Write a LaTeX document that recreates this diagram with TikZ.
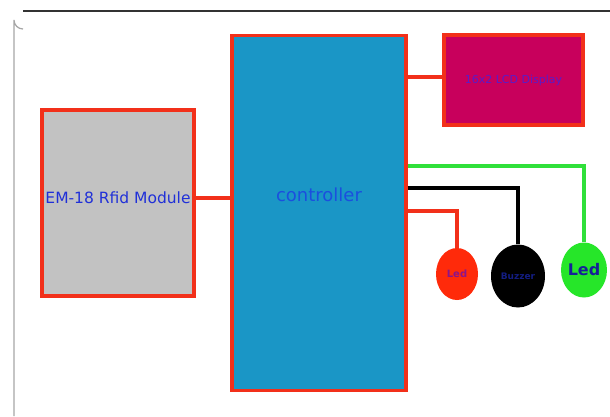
\documentclass[tikz,border=0pt]{standalone}
\usepackage{fontspec}
\setmainfont{DejaVu Sans}
\usetikzlibrary{shapes.geometric}
\begin{document}
\begin{tikzpicture}[x=1pt,y=-1pt,
  block/.style={draw=borderred, line width=3.4pt, rectangle, inner sep=0pt},
  led/.style={ellipse, inner sep=0pt, draw=none},
  wire/.style={line width=3.4pt}]
\definecolor{borderred}{HTML}{F2301A}
\definecolor{ctrlblue}{HTML}{1A96C6}
\definecolor{lcdfill}{HTML}{C8005C}
\definecolor{modgray}{HTML}{C2C2C2}
\definecolor{txtblue}{HTML}{2030D8}
\definecolor{txtpurple}{HTML}{5A1CC8}
\definecolor{ledred}{HTML}{FF2A0A}
\definecolor{ledgreen}{HTML}{26E629}
\definecolor{wiregreen}{HTML}{30E03A}
\useasboundingbox (0,0) rectangle (610,416);
\fill[white] (0,0) rectangle (610,416);
% window frame
\draw[gray!70, line width=1.2pt] (14,416) -- (14,20) arc[start angle=180, end angle=90, radius=9];
\draw[black!80, line width=1.4pt] (23,11) -- (610,11);
% blocks
\node[block, fill=ctrlblue, minimum width=174, minimum height=355] (ctrl) at (319,213) {};
\node[font=\fontsize{18}{20}\selectfont, text=txtblue!85!cyan] (ctrltext) at (319,195) {controller};
\node[block, fill=lcdfill, minimum width=139, minimum height=90,
  font=\fontsize{11}{12}\selectfont, text=txtpurple] (lcd) at (513.5,80) {16x2 LCD Display};
\node[block, fill=modgray, minimum width=152, minimum height=186] (rfid) at (118,203) {};
\node[font=\fontsize{15.5}{17}\selectfont, text=txtblue] (rfidtext) at (118,198) {EM-18 Rfid Module};
% indicators
\node[led, fill=ledred, minimum width=42, minimum height=52,
  font=\fontsize{10}{11}\selectfont\bfseries, text=txtpurple!70!red] (ledr) at (457,274) {Led};
\node[led, fill=black, minimum width=54, minimum height=63,
  font=\fontsize{9}{10}\selectfont\bfseries, text=txtblue!60!black] (buzz) at (518,276) {Buzzer};
\node[led, fill=ledgreen, minimum width=42, minimum height=55,
  font=\fontsize{16}{17}\selectfont\bfseries, text=txtblue!70!black] (ledg) at (584,270) {Led};
% connections
\draw[wire, borderred] (rfid.east |- 0,198) -- (ctrl.west |- 0,198);
\draw[wire, borderred] (ctrl.east |- 0,77) -- (lcd.west |- 0,77);
\draw[wire, wiregreen] (ctrl.east |- 0,166) -| (ledg.north);
\draw[wire, black] (ctrl.east |- 0,188) -| (buzz.north);
\draw[wire, borderred] (ctrl.east |- 0,211) -| (ledr.north);
\end{tikzpicture}
\end{document}
